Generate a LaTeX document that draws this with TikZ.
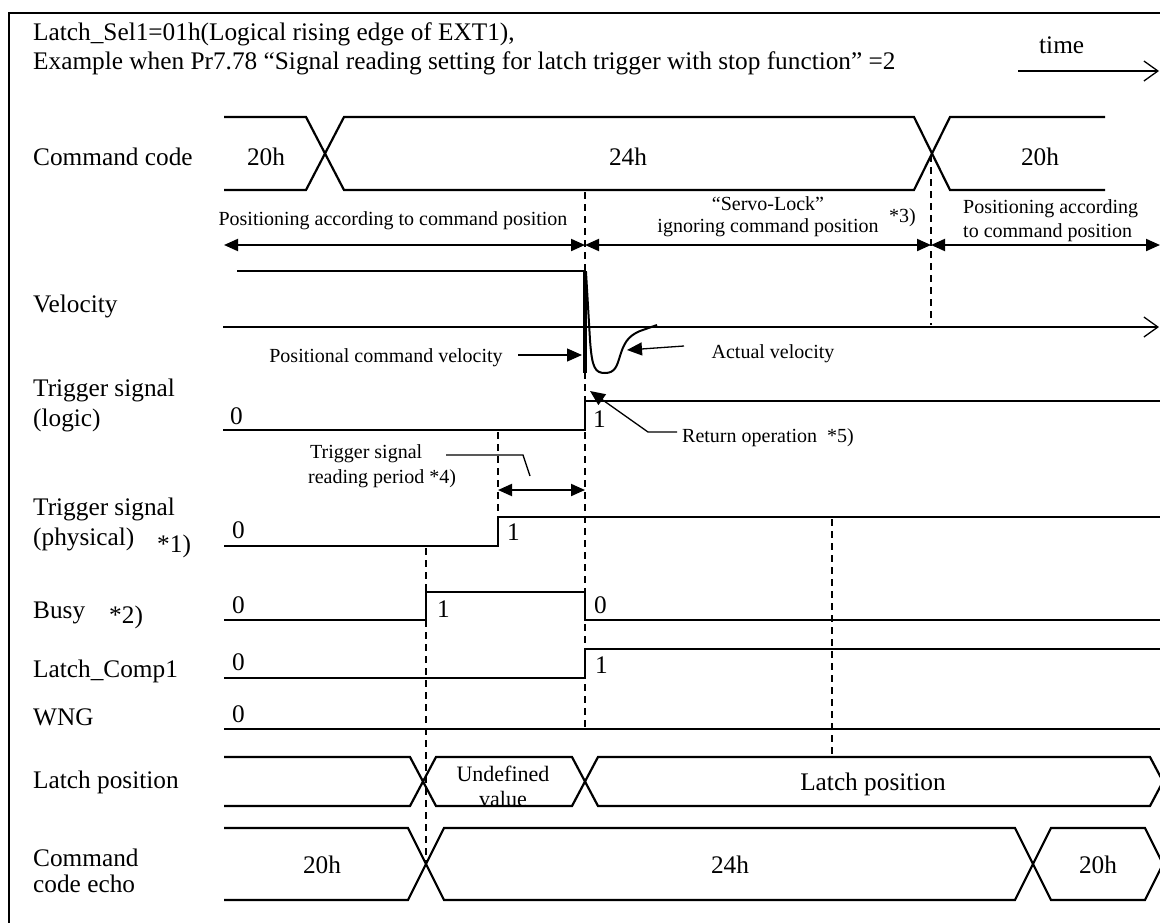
\documentclass[tikz,border=0pt]{standalone}
\usepackage{fontspec}
\setmainfont{Liberation Serif}
\usetikzlibrary{arrows.meta}
\newcommand\fL{\fontsize{25.3}{29}\selectfont}
\newcommand\fA{\fontsize{20}{23}\selectfont}
\newcommand\fU{\fontsize{22}{23}\selectfont}
\tikzset{
  sig/.style={line width=2.2pt, line join=miter},
  thinline/.style={line width=1.3pt},
  dashline/.style={line width=1.3pt, dash pattern=on 7pt off 5pt},
  lbl/.style={anchor=base west, inner sep=0pt, font=\fL},
  val/.style={anchor=base, inner sep=0pt, font=\fL},
  bit/.style={anchor=base west, inner sep=0pt, font=\fL},
  ann/.style={anchor=base, inner sep=0pt, font=\fA},
  annw/.style={anchor=base west, inner sep=0pt, font=\fA},
  dbl/.style={line width=2pt, {Triangle[length=14pt,width=12pt]}-{Triangle[length=14pt,width=12pt]}},
  ptr/.style={line width=1.3pt, -{Triangle[length=15pt,width=13pt]}},
  axisarrow/.style={line width=1.3pt, -{Straight Barb[length=14pt,width=20pt,line width=1.3pt]}}
}
\begin{document}
\begin{tikzpicture}[x=1pt,y=-1pt]
\useasboundingbox (0,0) rectangle (1160,922);
% frame
\draw[line width=1.5pt] (9,940) -- (9,13) -- (1175,13);
% title
\node[lbl] (t1) at (33,40) {Latch\_Sel1=01h(Logical rising edge of EXT1),};
\node[lbl] (t2) at (33,69) {Example when Pr7.78 “Signal reading setting for latch trigger with stop function” =2};
\node[lbl] (time) at (1039,53) {time};
\coordinate (timeA) at (1018,71);
\coordinate (timeB) at (1159,71);
\draw[axisarrow] (timeA) -- (timeB);

% row labels
\node[lbl] (Lcc) at (33,165) {Command code};
\node[lbl] (Lvel) at (33,312) {Velocity};
\node[lbl] (Ltl1) at (33,396) {Trigger signal};
\node[lbl] (Ltl2) at (33,426) {(logic)};
\node[lbl] (Ltp1) at (33,515) {Trigger signal};
\node[lbl] (Ltp2) at (33,545) {(physical)};
\node[lbl] (Ltp3) at (157,552) {*1)};
\node[lbl] (Lbusy) at (33,618) {Busy};
\node[lbl] (Lbusy2) at (109,623) {*2)};
\node[lbl] (Llc) at (33,677) {Latch\_Comp1};
\node[lbl] (Lwng) at (33,725) {WNG};
\node[lbl] (Llp) at (33,788) {Latch position};
\node[lbl] (Lce1) at (33,866) {Command};
\node[lbl] (Lce2) at (33,892) {code echo};

% command code
\draw[sig] (224,117) -- (306,117) -- (344,190) -- (914,190) -- (950,117) -- (1105,117);
\draw[sig] (224,190) -- (306,190) -- (344,117) -- (914,117) -- (950,190) -- (1105,190);
\node[val] (cc1) at (266,165) {20h};
\node[val] (cc2) at (628,165) {24h};
\node[val] (cc3) at (1040,165) {20h};

% dashed guides
\draw[dashline] (585,192) -- (585,729);
\draw[dashline] (931,155) -- (931,325);
\draw[dashline] (498,432) -- (498,517);
\draw[dashline] (426,548) -- (426,866);
\draw[dashline] (832,519) -- (832,757);

% phase annotations
\node[ann] (ph1) at (393,225) {Positioning according to command position};
\node[ann] (ph2a) at (768,210) {“Servo-Lock”};
\node[ann] (ph2b) at (768,232) {ignoring command position};
\node[annw] (ph2c) at (889,222) {*3)};
\node[annw] (ph3a) at (963,213) {Positioning according};
\node[annw] (ph3b) at (963,237) {to command position};
\coordinate (pa) at (224,245);
\coordinate (pb) at (585,245);
\coordinate (pc) at (931,245);
\coordinate (pd) at (1160,245);
\draw[dbl] (pa) -- (pb);
\draw[dbl] (pb) -- (pc);
\draw[dbl] (pc) -- (pd);

% velocity
\draw[sig] (237,271) -- (585,271);
\draw[line width=3.2pt] (585,271) -- (585,373);
\draw[axisarrow] (223,327) -- (1159,327);
\draw[line width=2pt] (586,272) -- (590,340) .. controls (592,368) and (595,373) .. (605,373)
  .. controls (615,373) and (617,366) .. (620,356) .. controls (624,343) and (628,336) .. (640,331) -- (657,325);
\node[ann] (pcv) at (386,362) {Positional command velocity};
\coordinate (pcvA) at (518,355);
\coordinate (pcvB) at (582,355);
\draw[ptr] (pcvA) -- (pcvB);
\node[ann] (av) at (773,358) {Actual velocity};
\coordinate (avA) at (684,346);
\coordinate (avB) at (627,350);
\draw[ptr] (avA) -- (avB);

% trigger logic
\draw[sig] (223,430) -- (585,430) -- (585,401) -- (1160,401);
\node[bit] (tl0) at (230,424) {0};
\node[bit] (tl1) at (593,427) {1};
\node[annw] (ret) at (682,442) {Return operation \ *5)};
\coordinate (retA) at (677,432);
\coordinate (retB) at (648,432);
\coordinate (retC) at (590,391);
\draw[ptr] (retA) -- (retB) -- (retC);

% trigger reading period
\node[annw] (rp1) at (310,458) {Trigger signal};
\node[annw] (rp2) at (308,483) {reading period *4)};
\draw[thinline] (446,455) -- (523,455) -- (530,476);
\coordinate (rpa) at (498,490);
\coordinate (rpb) at (585,490);
\draw[dbl] (rpa) -- (rpb);

% trigger physical
\draw[sig] (224,546) -- (498,546) -- (498,517) -- (1160,517);
\node[bit] (tp0) at (232,538) {0};
\node[bit] (tp1) at (507,540) {1};

% busy
\draw[sig] (224,620) -- (426,620) -- (426,592) -- (585,592) -- (585,620) -- (1160,620);
\node[bit] (b0) at (232,613) {0};
\node[bit] (b1) at (437,617) {1};
\node[bit] (b2) at (594,613) {0};

% latch comp
\draw[sig] (224,678) -- (585,678) -- (585,649) -- (1160,649);
\node[bit] (lc0) at (232,670) {0};
\node[bit] (lc1) at (595,673) {1};

% WNG
\draw[sig] (224,729) -- (1160,729);
\node[bit] (w0) at (232,722) {0};

% latch position
\draw[sig] (224,757) -- (410,757) -- (436,806) -- (572,806) -- (598,757) -- (1150,757) -- (1163,781.5);
\draw[sig] (224,806) -- (410,806) -- (436,757) -- (572,757) -- (598,806) -- (1150,806) -- (1163,781.5);
\node[anchor=base, inner sep=0pt, font=\fU] (ud1) at (503,781) {Undefined};
\node[anchor=base, inner sep=0pt, font=\fU] (ud2) at (503,806) {value};
\node[val] (lpv) at (873,790) {Latch position};

% command code echo
\draw[sig] (224,828) -- (408,828) -- (444,900) -- (1015,900) -- (1051,828) -- (1145,828) -- (1163,864);
\draw[sig] (224,900) -- (408,900) -- (444,828) -- (1015,828) -- (1051,900) -- (1145,900) -- (1163,864);
\node[val] (ce1) at (322,873) {20h};
\node[val] (ce2) at (730,873) {24h};
\node[val] (ce3) at (1098,873) {20h};
\end{tikzpicture}
\end{document}
